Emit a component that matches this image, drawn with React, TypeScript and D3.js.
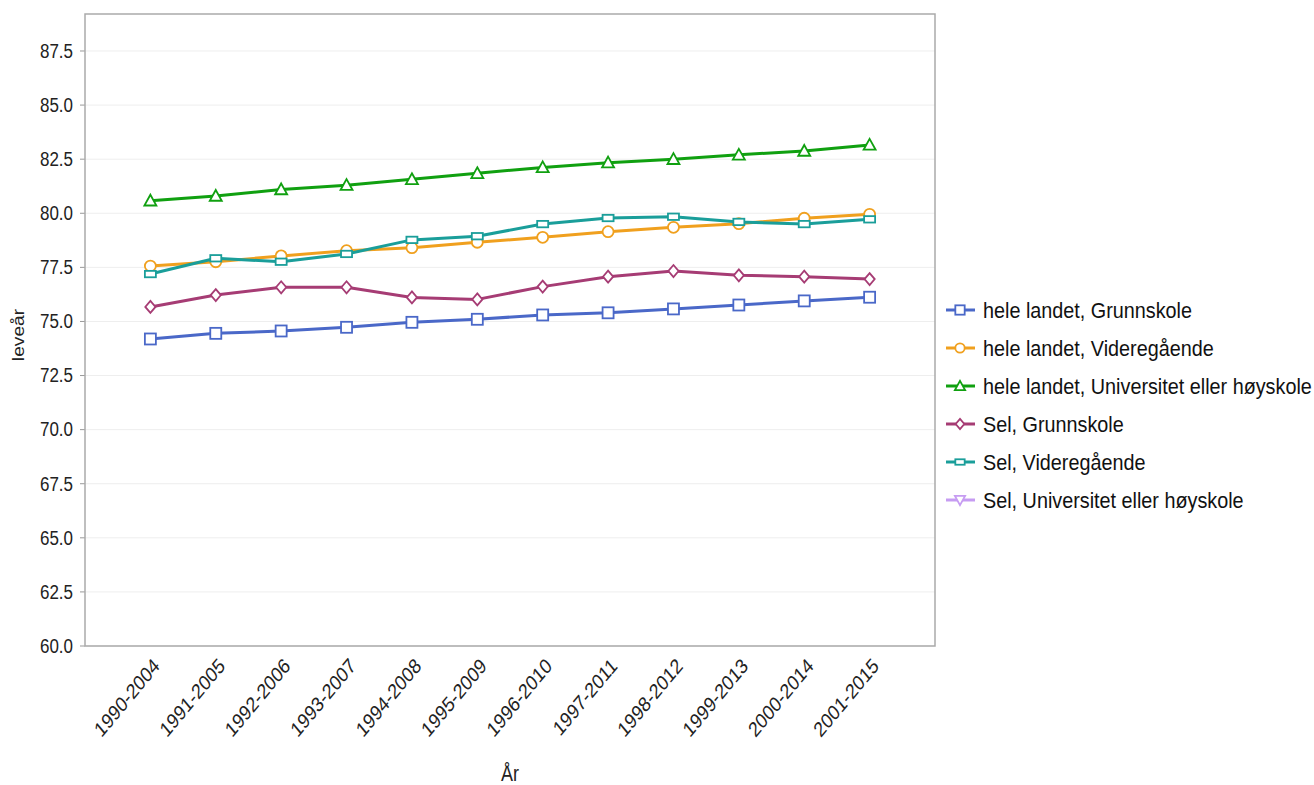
import React from "react";
import * as d3 from "d3";

const categories = ["1990-2004","1991-2005","1992-2006","1993-2007","1994-2008","1995-2009","1996-2010","1997-2011","1998-2012","1999-2013","2000-2014","2001-2015"];
const yTicks = [60, 62.5, 65, 67.5, 70, 72.5, 75, 77.5, 80, 82.5, 85, 87.5];

const heleGrunnskole = [74.19, 74.45, 74.56, 74.73, 74.96, 75.1, 75.3, 75.4, 75.58, 75.76, 75.95, 76.12];
const heleVideregaende = [77.56, 77.76, 78.03, 78.27, 78.41, 78.66, 78.89, 79.15, 79.35, 79.52, 79.77, 79.95];
const heleUniversitet = [80.58, 80.8, 81.1, 81.3, 81.57, 81.85, 82.12, 82.34, 82.5, 82.7, 82.88, 83.16];
const selGrunnskole = [75.67, 76.22, 76.58, 76.58, 76.11, 76.02, 76.61, 77.07, 77.33, 77.13, 77.07, 76.96];
const selVideregaende = [77.19, 77.92, 77.76, 78.12, 78.77, 78.94, 79.5, 79.78, 79.84, 79.6, 79.5, 79.72];
const selUniversitet: (number | null)[] = [null, null, null, null, null, null, null, null, null, null, null, null];

const seriesNames = [
  "hele landet, Grunnskole",
  "hele landet, Videregående",
  "hele landet, Universitet eller høyskole",
  "Sel, Grunnskole",
  "Sel, Videregående",
  "Sel, Universitet eller høyskole",
];
const seriesValues: (number | null)[][] = [heleGrunnskole, heleVideregaende, heleUniversitet, selGrunnskole, selVideregaende, selUniversitet];
const seriesColors = ["#4a68c8", "#f0a01e", "#10a010", "#a63c74", "#1a9e9a", "#c69cf2"];
const seriesShapes = ["square", "circle", "triangle", "diamond", "rect", "triangleDown"];

const FONT = "Liberation Sans, Arial, sans-serif";

function Marker({ shape, x, y, color, s = 1 }: { shape: string; x: number; y: number; color: string; s?: number }) {
  const sw = 1.8;
  if (shape === "square") {
    const h = 5.5 * s;
    return <rect x={x - h} y={y - h} width={2 * h} height={2 * h} fill="white" stroke={color} strokeWidth={sw} />;
  }
  if (shape === "circle") {
    return <circle cx={x} cy={y} r={5.5 * s} fill="white" stroke={color} strokeWidth={sw} />;
  }
  if (shape === "triangle") {
    const h = 6 * s;
    return <path d={`M${x},${y - h}L${x + h},${y + h * 0.8}L${x - h},${y + h * 0.8}Z`} fill="white" stroke={color} strokeWidth={sw} />;
  }
  if (shape === "triangleDown") {
    const h = 6 * s;
    return <path d={`M${x},${y + h}L${x + h},${y - h * 0.8}L${x - h},${y - h * 0.8}Z`} fill="white" stroke={color} strokeWidth={sw} />;
  }
  if (shape === "diamond") {
    const h = 6 * s;
    return <path d={`M${x},${y - h}L${x + h * 0.85},${y}L${x},${y + h}L${x - h * 0.85},${y}Z`} fill="white" stroke={color} strokeWidth={sw} />;
  }
  const w = 5.5 * s, hh = 3.2 * s;
  return <rect x={x - w} y={y - hh} width={2 * w} height={2 * hh} fill="white" stroke={color} strokeWidth={sw} />;
}

export default function App() {
  const W = 1314, H = 785;
  const left = 85, right = 935, top = 14, bottom = 646;
  const x = d3.scalePoint<string>().domain(categories).range([left, right]).padding(1);
  const y = d3.scaleLinear().domain([60, 89.21]).range([bottom, top]);
  const line = d3.line<number | null>()
    .defined((d) => d != null)
    .x((_, i) => x(categories[i]) as number)
    .y((d) => y(d as number));

  const legendX = 955, legendY0 = 310, legendStep = 38;

  return (
    <svg width={W} height={H} style={{ position: "absolute", left: 0, top: 0, background: "white" }} fontFamily={FONT}>
      {yTicks.map((t) => (
        <g key={t}>
          <line x1={left} x2={right} y1={y(t)} y2={y(t)} stroke="#eeeeee" strokeWidth={1} />
          <line x1={left - 5} x2={left} y1={y(t)} y2={y(t)} stroke="#999" strokeWidth={1} />
          <text transform={`translate(73,${y(t)}) scale(1,1.15)`} dy="0.35em" textAnchor="end" fontSize={17} fill="#222">{t.toFixed(1)}</text>
        </g>
      ))}
      <rect x={left} y={top} width={right - left} height={bottom - top} fill="none" stroke="#aaaaaa" strokeWidth={1.5} />
      {categories.map((c) => (
        <text key={c} transform={`translate(${(x(c) as number) + 6},${bottom + 16}) scale(1,1.2) rotate(-45)`} textAnchor="end" dy="0.35em" fontSize={17.5} fill="#222">{c}</text>
      ))}
      <text transform="translate(510,781) scale(1,1.22)" textAnchor="middle" fontSize={18} fill="#222">År</text>
      <text transform="translate(24,335) scale(1,1.2) rotate(-90)" textAnchor="middle" fontSize={16} fill="#222">leveår</text>

      {seriesValues.map((vals, si) => (
        <g key={si}>
          <path d={line(vals) || ""} fill="none" stroke={seriesColors[si]} strokeWidth={3} strokeLinejoin="round" />
          {vals.map((v, i) => v == null ? null : (
            <Marker key={i} shape={seriesShapes[si]} x={x(categories[i]) as number} y={y(v)} color={seriesColors[si]} />
          ))}
        </g>
      ))}

      {seriesNames.map((n, i) => {
        const ly = legendY0 + i * legendStep;
        return (
          <g key={n}>
            <line x1={legendX - 9} x2={legendX + 20} y1={ly} y2={ly} stroke={seriesColors[i]} strokeWidth={3} />
            <Marker shape={seriesShapes[i]} x={legendX + 5} y={ly} color={seriesColors[i]} s={0.85} />
            <text transform={`translate(${legendX + 28},${ly}) scale(1,1.1)`} dy="0.35em" fontSize={19.8} fill="#111">{n}</text>
          </g>
        );
      })}
    </svg>
  );
}
